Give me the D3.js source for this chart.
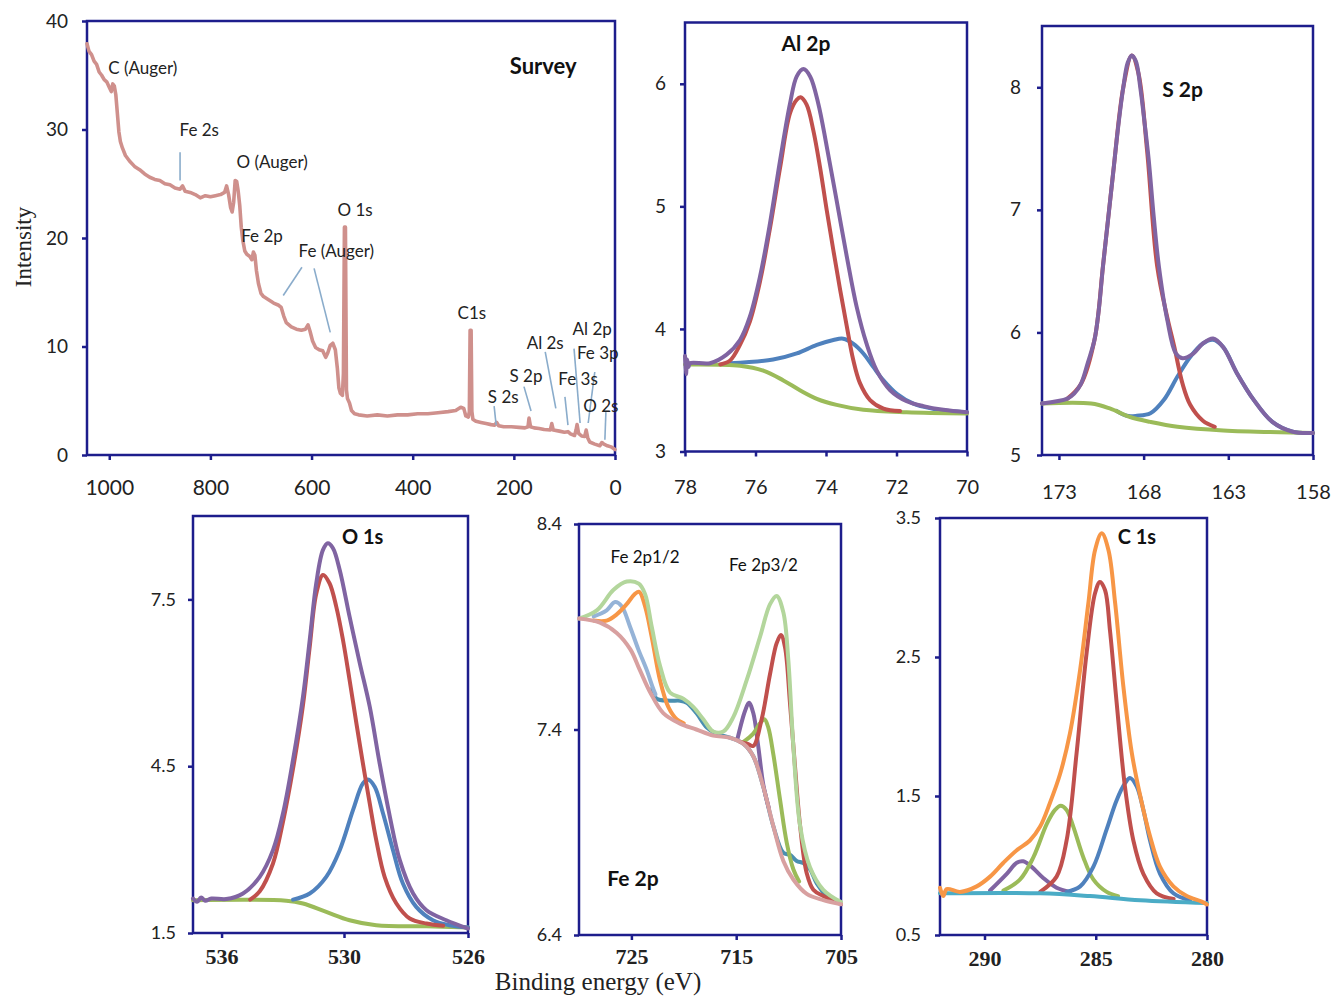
<!DOCTYPE html>
<html>
<head>
<meta charset="utf-8">
<script src="https://cdn.jsdelivr.net/npm/d3@7"></script>
<style>
  html, body { margin: 0; padding: 0; background: #fff; }
  svg { display: block; }
  .tick text { fill: #222; }
</style>
</head>
<body>
<svg id="chart" width="1335" height="998"></svg>
<script>
// ---------- Survey spectrum: [binding energy (eV), intensity] ----------
const surveySpectrum = [
  [1044,37.9],[1040,37.2],[1035,36.9],[1030,36.3],[1025,36.0],[1020,35.3],[1015,35.0],[1010,34.6],
  [1005,34.4],[1000,33.9],[996,33.5],[993,34.2],[990,34.0],[987,33.2],[984,31.5],[981,29.8],
  [978,28.9],[974,28.3],[968,27.6],[960,27.1],[950,26.6],[940,26.3],[930,25.9],[920,25.6],
  [910,25.4],[900,25.3],[890,25.0],[880,24.9],[870,24.6],[860,24.5],[855,24.8],[850,24.3],
  [840,24.2],[830,24.0],[820,23.7],[810,23.9],[800,23.8],[790,23.9],[780,24.0],[772,24.2],
  [768,24.8],[764,24.0],[760,22.8],[757,22.4],[754,23.3],[751,25.3],[748,25.2],[745,24.3],
  [742,23.0],[739,21.0],[736,19.8],[732,18.8],[728,18.5],[722,18.3],[718,18.0],[715,18.7],
  [712,18.4],[709,17.0],[705,15.8],[700,14.9],[695,14.6],[685,14.3],[675,14.0],[665,13.8],
  [660,13.6],[655,12.8],[650,12.2],[640,11.8],[630,11.6],[620,11.5],[612,11.6],[607,12.0],
  [603,11.4],[598,10.5],[592,9.9],[585,9.7],[578,9.6],[572,9.0],[568,9.4],[563,10.1],
  [558,10.3],[553,9.7],[549,8.0],[546,6.2],[543,5.7],[539,5.5],[537,7.5],[535,21.0],
  [533,21.0],[531,6.0],[529,5.2],[525,4.8],[521,4.1],[515,3.8],[507,3.7],[490,3.6],
  [470,3.7],[450,3.6],[430,3.7],[410,3.7],[390,3.8],[370,3.8],[350,3.9],[330,4.0],
  [315,4.1],[305,4.4],[299,4.3],[295,3.6],[290,3.5],[288,4.0],[286.5,11.5],[284.5,11.5],
  [283,4.0],[281,3.3],[275,3.1],[265,3.0],[255,2.9],[245,2.8],[238,2.75],[234,3.0],
  [230,2.7],[220,2.6],[205,2.6],[190,2.55],[178,2.5],[172,2.6],[170,3.4],[167,2.6],
  [160,2.5],[150,2.45],[140,2.35],[128,2.3],[125,2.9],[122,2.3],[110,2.2],[100,2.1],
  [93,2.15],[88,1.95],[80,1.8],[77,2.3],[75,2.8],[72,2.0],[66,1.75],[60,1.7],
  [57,2.3],[54,1.6],[50,1.2],[40,1.0],[30,0.85],[26,1.15],[22,1.0],[15,0.85],[8,0.75],[0,0.5]
];
// Peak labels: text anchor point, then optional leader lines [from, to] in data units
const surveyLabels = [
  { text: "C (Auger)", at: [1002, 35.1], anchor: "start" },
  { text: "Fe 2s", at: [822, 29.4], leader: [[860, 27.9], [860, 25.3]] },
  { text: "O (Auger)", at: [678, 26.45] },
  { text: "O 1s", at: [514, 22.0] },
  { text: "Fe 2p", at: [698, 19.6] },
  { text: "Fe (Auger)", at: [551, 18.25], leader: [[619, 17.3], [656, 14.7]], leader2: [[595, 17.2], [563, 11.3]] },
  { text: "C1s", at: [283, 12.5] },
  { text: "Al 2s", at: [138, 9.8], leader: [[138, 9.5], [117, 4.3]] },
  { text: "Al 2p", at: [45, 11.1], leader: [[81, 9.8], [69, 2.95]] },
  { text: "Fe 3p", at: [34, 8.85], leader: [[40, 7.65], [53, 2.95]] },
  { text: "S 2p", at: [176, 6.7], leader: [[180, 6.3], [166, 4.05]] },
  { text: "Fe 3s", at: [73, 6.45], leader: [[99, 5.35], [93, 2.75]] },
  { text: "S 2s", at: [221, 4.8], leader: [[239, 4.5], [235, 2.75]] },
  { text: "O 2s", at: [28, 3.95], leader: [[18, 3.95], [20, 1.4]] }
];

// ---------- Al 2p ----------
const al2pBackground = [[78,3.71],[77.86,3.71],[76.44,3.70],[75.78,3.66],[75.21,3.58],[74.74,3.50],[74.26,3.43],[73.70,3.38],[72.94,3.34],[71.71,3.32],[70,3.31]];
const al2pMinor = [[76.73,3.72],[75.50,3.75],[74.83,3.80],[74.26,3.87],[73.79,3.91],[73.51,3.92],[73.23,3.88],[72.94,3.80],[72.66,3.69],[72.37,3.58],[71.99,3.47],[71.52,3.39],[71.0,3.35],[70.5,3.33],[70,3.32]];
const al2pMain = [[77.0,3.71],[76.73,3.74],[76.44,3.87],[76.16,4.06],[75.87,4.39],[75.59,4.82],[75.30,5.32],[75.02,5.76],[74.83,5.87],[74.72,5.89],[74.55,5.83],[74.36,5.62],[74.17,5.32],[73.98,4.97],[73.79,4.64],[73.60,4.32],[73.41,4.02],[73.23,3.75],[73.04,3.56],[72.75,3.42],[72.37,3.35],[71.90,3.33]];
const al2pEnvelope = [[78,3.78],[77.97,3.63],[77.94,3.75],[77.9,3.69],[77.86,3.72],[77.29,3.72],[76.82,3.79],[76.44,3.91],[76.16,4.10],[75.87,4.43],[75.59,4.86],[75.30,5.38],[75.02,5.84],[74.83,6.06],[74.64,6.12],[74.45,6.06],[74.22,5.84],[73.98,5.49],[73.70,5.05],[73.41,4.59],[73.13,4.18],[72.85,3.88],[72.56,3.66],[72.18,3.50],[71.71,3.41],[71.24,3.37],[70.67,3.34],[70,3.32]];

// ---------- S 2p ----------
const s2pBackground = [[174,5.42],[171.1,5.42],[170,5.38],[168.8,5.31],[167.6,5.27],[166,5.23],[163.3,5.2],[158,5.18]];
const s2pMain = [[172.5,5.46],[171.7,5.58],[170.9,5.94],[170.4,6.54],[169.8,7.30],[169.2,8.0],[168.7,8.26],[168.3,8.11],[167.8,7.49],[167.2,6.54],[166.6,6.12],[166.2,5.89],[165.7,5.58],[165.25,5.41],[164.5,5.28],[163.8,5.23]];
const s2pMinor = [[169.6,5.36],[169.0,5.32],[168.4,5.32],[167.6,5.34],[166.8,5.45],[166.0,5.64],[165.25,5.80],[164.5,5.91],[163.9,5.94],[163.3,5.88],[162.5,5.67],[161.5,5.45],[160.4,5.27],[159.2,5.19],[158,5.18]];
const s2pEnvelope = [[174,5.42],[172.5,5.46],[172.1,5.50],[171.7,5.58],[171.3,5.75],[170.9,5.94],[170.65,6.18],[170.4,6.54],[170.1,6.92],[169.8,7.30],[169.5,7.68],[169.2,8.0],[168.94,8.2],[168.7,8.26],[168.45,8.21],[168.2,8.0],[167.96,7.73],[167.7,7.41],[167.4,6.94],[167.1,6.54],[166.6,6.10],[166.1,5.83],[165.7,5.79],[165.05,5.83],[164.5,5.91],[163.9,5.95],[163.3,5.88],[162.5,5.67],[161.5,5.45],[160.4,5.27],[159.2,5.19],[158,5.18]];

// ---------- O 1s ----------
const o1sBackground = [[537.4,2.09],[532.83,2.08],[532.01,2.03],[530.87,1.88],[529.82,1.73],[528.96,1.64],[527.34,1.62],[526,1.60]];
const o1sMinor = [[532.5,2.10],[531.68,2.21],[530.87,2.51],[530.21,2.99],[529.71,3.71],[529.39,4.19],[529.23,4.26],[529.01,4.13],[528.74,3.65],[528.42,2.99],[528.10,2.39],[527.67,1.97],[527.13,1.73],[526.6,1.64],[526,1.60]];
const o1sMain = [[534.6,2.10],[534.13,2.25],[533.48,2.75],[532.99,3.50],[532.5,4.45],[532.01,5.60],[531.68,6.65],[531.36,7.60],[531.03,7.94],[530.71,7.79],[530.38,7.37],[530.05,6.77],[529.82,6.05],[529.60,5.27],[529.39,4.55],[529.17,3.83],[528.96,3.17],[528.69,2.51],[528.31,2.03],[527.88,1.76],[527.34,1.67],[526.8,1.63]];
const o1sEnvelope = [[537.4,2.12],[537.2,2.06],[537.0,2.14],[536.8,2.08],[536.5,2.12],[535.77,2.11],[534.95,2.21],[534.13,2.51],[533.48,2.99],[532.99,3.65],[532.50,4.61],[532.01,5.75],[531.68,6.77],[531.36,7.79],[531.03,8.39],[530.79,8.51],[530.54,8.42],[530.21,8.03],[529.82,7.19],[529.49,6.35],[529.17,5.57],[528.85,4.55],[528.52,3.59],[528.20,2.81],[527.77,2.21],[527.34,1.91],[526.70,1.73],[526,1.58]];

// ---------- Fe 2p ----------
const fe2pBackground = [[730,7.94],[728.0,7.92],[726.4,7.87],[725.1,7.79],[724.2,7.69],[723.2,7.58],[721.96,7.48],[720.4,7.43],[718.8,7.40],[717.19,7.37],[715.6,7.36],[714.3,7.33],[713.37,7.27],[712.41,7.12],[711.46,6.93],[710.5,6.76],[709.55,6.67],[708.27,6.60],[706.69,6.57],[705,6.55]];
const fe2pEnvelope = [[730,7.94],[728.3,7.98],[726.7,8.08],[725.45,8.12],[724.3,8.11],[723.7,8.06],[723.06,7.90],[722.27,7.71],[721.32,7.58],[720.05,7.55],[719.1,7.51],[718.14,7.45],[717.19,7.39],[716.23,7.39],[715.28,7.46],[714.0,7.64],[712.73,7.85],[711.77,8.01],[711.14,8.05],[710.5,7.97],[710.03,7.74],[709.55,7.32],[708.9,6.93],[707.96,6.73],[706.69,6.62],[705,6.56]];
const fe2p12High = [[728.6,7.93],[727.36,7.93],[726.4,7.96],[725.45,8.01],[724.66,8.06],[724.25,8.07],[723.7,8.0],[723.06,7.85],[722.27,7.64],[721.48,7.51],[720.68,7.45],[720.0,7.43]];
const fe2p12Low = [[728.6,7.95],[727.36,7.98],[726.56,8.02],[725.93,8.0],[725.13,7.90],[724.34,7.79],[723.54,7.69],[723.0,7.61],[722.7,7.57]];
const fe2pSatellite = [[723.0,7.60],[722.6,7.55],[721.32,7.54],[720.36,7.54],[719.72,7.53],[718.8,7.48],[717.8,7.41],[716.9,7.38],[715.6,7.36],[714.3,7.33],[713.37,7.27],[712.41,7.12],[711.46,6.93],[710.5,6.80],[709.87,6.79],[709.23,6.76],[708.6,6.75],[707.96,6.72],[707.3,6.65],[706.36,6.59],[705.5,6.56]];
const fe2p32Sat = [[714.9,7.35],[714.16,7.49],[713.78,7.53],[713.37,7.48],[712.9,7.32],[712.41,7.13],[711.9,7.02]];
const fe2p32Mid = [[714.3,7.34],[713.37,7.38],[712.73,7.43],[712.31,7.45],[711.94,7.41],[711.46,7.28],[710.82,7.06],[710.18,6.85],[709.55,6.72],[709.0,6.66]];
const fe2p32Main = [[714.64,7.34],[713.9,7.33],[713.37,7.32],[712.57,7.45],[711.77,7.67],[711.14,7.82],[710.73,7.86],[710.34,7.80],[709.87,7.53],[709.39,7.22],[708.9,6.93],[708.27,6.70],[707.64,6.62],[706.69,6.59],[705,6.55]];

// ---------- C 1s ----------
const c1sBackground = [[292,0.80],[287.5,0.80],[285.26,0.78],[283.0,0.75],[280,0.73]];
const c1sOCO = [[289.75,0.82],[289.0,0.94],[288.55,1.02],[288.26,1.03],[287.88,0.99],[287.36,0.91],[286.76,0.84],[286.16,0.81]];
const c1sCO = [[289.15,0.82],[288.4,0.90],[287.8,1.06],[287.2,1.30],[286.83,1.40],[286.58,1.43],[286.31,1.40],[286.01,1.28],[285.56,1.06],[285.11,0.90],[284.51,0.81],[284.0,0.78]];
const c1sCC = [[287.5,0.81],[286.76,0.92],[286.31,1.18],[285.86,1.81],[285.41,2.53],[285.03,2.96],[284.81,3.04],[284.58,2.98],[284.36,2.69],[284.06,2.17],[283.69,1.57],[283.31,1.18],[282.86,0.94],[282.26,0.80],[281.5,0.76]];
const c1sLow = [[286.31,0.81],[285.7,0.85],[285.11,0.99],[284.51,1.26],[284.06,1.47],[283.69,1.59],[283.46,1.63],[283.16,1.57],[282.86,1.40],[282.56,1.18],[282.11,0.94],[281.51,0.80],[280.76,0.75]];
const c1sEnvelope = [[292,0.84],[291.85,0.78],[291.7,0.83],[291.1,0.81],[290.35,0.85],[289.75,0.92],[289.15,1.02],[288.55,1.11],[287.96,1.18],[287.5,1.28],[287.06,1.45],[286.6,1.66],[286.16,1.95],[285.7,2.41],[285.33,2.89],[285.03,3.27],[284.73,3.39],[284.43,3.27],[284.13,2.89],[283.76,2.29],[283.38,1.81],[283.0,1.50],[282.56,1.21],[282.11,0.99],[281.51,0.85],[280.91,0.78],[280.24,0.74],[280,0.72]];

// ---------- axis ticks ----------
const surveyXTicks = [1000, 800, 600, 400, 200, 0];
const surveyYTicks = [0, 10, 20, 30, 40];
const al2pXTicks = [78, 76, 74, 72, 70];
const al2pYTicks = [3, 4, 5, 6];
const s2pXTicks = [173, 168, 163, 158];
const s2pYTicks = [5, 6, 7, 8];
const o1sXTicks = [536, 530, 526];
const o1sYTicks = [1.5, 4.5, 7.5];
const fe2pXTicks = [725, 715, 705];
const fe2pYTicks = [6.4, 7.4, 8.4];
const c1sXTicks = [290, 285, 280];
const c1sYTicks = [0.5, 1.5, 2.5, 3.5];

// ---------- styling ----------
const NAVY = "#1d1d8c";
const C = {
  purple: "#8064a2", red: "#c0504d", blue: "#4f81bd", green: "#9bbb59",
  orange: "#f79646", teal: "#4bacc6", lightGreen: "#b3d69c", lightBlue: "#95b3d7",
  pink: "#d8a0a0", satellite: "#4a8fb0", survey: "#cf908c", leader: "#8aaccb"
};
const SANS = "Lato, 'Open Sans', sans-serif";
const SERIF = "'Liberation Serif', 'DejaVu Serif', serif";

const svg = d3.select("#chart");

function drawPanel(p) {
  const x = d3.scaleLinear().domain(p.xDomain).range(p.xRange);
  const y = d3.scaleLinear().domain(p.yDomain).range(p.yRange);
  const g = svg.append("g");
  const left = p.xRange[0], right = p.xRange[p.xRange.length - 1];
  const bottom = p.yRange[0], top = p.yRange[1];

  const xAxis = g.append("g").attr("transform", `translate(0,${bottom})`)
    .call(d3.axisBottom(x).tickValues(p.xTicks).tickSize(5).tickPadding(p.xPad)
      .tickFormat(p.xFormat || d3.format("d")));
  const yAxis = g.append("g").attr("transform", `translate(${left},0)`)
    .call(d3.axisLeft(y).tickValues(p.yTicks).tickSize(5).tickPadding(p.yPad)
      .tickFormat(p.yFormat || d3.format("d")));
  [xAxis, yAxis].forEach(a => {
    a.select(".domain").remove();
    a.selectAll(".tick line").attr("stroke", NAVY).attr("stroke-width", 2.5);
  });
  xAxis.selectAll("text").attr("font-family", p.xFont || SANS).attr("font-size", p.xSize || 20)
    .attr("font-weight", p.xWeight || "normal");
  yAxis.selectAll("text").attr("font-family", SANS).attr("font-size", p.ySize || 19);

  g.append("rect").attr("x", left).attr("y", top)
    .attr("width", right - left).attr("height", bottom - top)
    .attr("fill", "none").attr("stroke", NAVY).attr("stroke-width", 2.5);

  const line = d3.line().x(d => x(d[0])).y(d => y(d[1]))
    .curve(p.curve || d3.curveCatmullRom.alpha(0.5));
  p.series.forEach(s => {
    g.append("path").datum(s.data).attr("d", line)
      .attr("fill", "none").attr("stroke", s.color)
      .attr("stroke-width", s.width || 4)
      .attr("stroke-linejoin", "round").attr("stroke-linecap", "round");
  });

  (p.titles || []).forEach(t => {
    g.append("text").attr("x", x(t.at[0])).attr("y", y(t.at[1]))
      .attr("text-anchor", t.anchor || "middle")
      .attr("font-family", SANS).attr("font-size", t.size || 21)
      .attr("font-weight", t.bold ? "bold" : "normal").attr("fill", "#111")
      .text(t.text);
  });
  return { x, y, g };
}

// Survey
const survey = drawPanel({
  xDomain: [1044, 0], xRange: [87, 615], yDomain: [0, 40], yRange: [455, 21],
  xTicks: surveyXTicks, yTicks: surveyYTicks, xPad: 20, yPad: 14, xSize: 21, ySize: 19,
  curve: d3.curveLinear,
  series: [{ data: surveySpectrum, color: C.survey, width: 3.6 }],
  titles: [{ text: "Survey", at: [142, 35.1], bold: true, size: 22 }]
});
surveyLabels.forEach(l => {
  survey.g.append("text")
    .attr("x", survey.x(l.at[0])).attr("y", survey.y(l.at[1]))
    .attr("text-anchor", l.anchor || "middle")
    .attr("font-family", SANS).attr("font-size", 17).attr("fill", "#222")
    .text(l.text);
  [l.leader, l.leader2].filter(Boolean).forEach(seg => {
    survey.g.append("line")
      .attr("x1", survey.x(seg[0][0])).attr("y1", survey.y(seg[0][1]))
      .attr("x2", survey.x(seg[1][0])).attr("y2", survey.y(seg[1][1]))
      .attr("stroke", C.leader).attr("stroke-width", 1.6);
  });
});

// Al 2p
drawPanel({
  xDomain: [78, 70], xRange: [685, 967], yDomain: [3, 6.5], yRange: [451.5, 22.5],
  xTicks: al2pXTicks, yTicks: al2pYTicks, xPad: 23, yPad: 14,
  series: [
    { data: al2pMinor, color: C.blue },
    { data: al2pBackground, color: C.green },
    { data: al2pMain, color: C.red },
    { data: al2pEnvelope, color: C.purple }
  ],
  titles: [{ text: "Al 2p", at: [74.57, 6.27], bold: true }]
});

// S 2p
drawPanel({
  xDomain: [174, 158], xRange: [1042, 1313], yDomain: [5, 8.5], yRange: [455, 26],
  xTicks: s2pXTicks, yTicks: s2pYTicks, xPad: 25, yPad: 16,
  series: [
    { data: s2pMinor, color: C.blue },
    { data: s2pBackground, color: C.green },
    { data: s2pMain, color: C.red },
    { data: s2pEnvelope, color: C.purple }
  ],
  titles: [{ text: "S 2p", at: [165.7, 7.92], bold: true }]
});

// O 1s (piecewise axis: 536 / 530 / 526 labels evenly spaced)
drawPanel({
  xDomain: [537.4, 530, 526], xRange: [193, 344, 468], yDomain: [1.5, 9], yRange: [933, 516],
  xTicks: o1sXTicks, yTicks: o1sYTicks, xPad: 10, yPad: 12,
  xFont: SERIF, xSize: 22, xWeight: "bold", ySize: 18, yFormat: d3.format(".1f"),
  series: [
    { data: o1sBackground, color: C.green },
    { data: o1sMinor, color: C.blue },
    { data: o1sMain, color: C.red },
    { data: o1sEnvelope, color: C.purple }
  ],
  titles: [{ text: "O 1s", at: [529.4, 8.5], bold: true, size: 20 }]
});

// Fe 2p
drawPanel({
  xDomain: [730, 705], xRange: [579, 841], yDomain: [6.4, 8.4], yRange: [935, 524],
  xTicks: fe2pXTicks, yTicks: fe2pYTicks, xPad: 8, yPad: 12,
  xFont: SERIF, xSize: 22, xWeight: "bold", ySize: 18, yFormat: d3.format(".1f"),
  series: [
    { data: fe2pSatellite, color: C.satellite },
    { data: fe2p12Low, color: C.lightBlue },
    { data: fe2p12High, color: C.orange },
    { data: fe2p32Sat, color: C.purple },
    { data: fe2p32Mid, color: C.green },
    { data: fe2p32Main, color: C.red },
    { data: fe2pEnvelope, color: C.lightGreen },
    { data: fe2pBackground, color: C.pink }
  ],
  titles: [
    { text: "Fe 2p1/2", at: [723.7, 8.21], size: 17 },
    { text: "Fe 2p3/2", at: [712.4, 8.17], size: 17 },
    { text: "Fe 2p", at: [724.85, 6.64], bold: true, size: 21 }
  ]
});

// C 1s
drawPanel({
  xDomain: [292, 280], xRange: [940, 1207], yDomain: [0.5, 3.5], yRange: [935, 518],
  xTicks: c1sXTicks, yTicks: c1sYTicks, xPad: 10, yPad: 14,
  xFont: SERIF, xSize: 22, xWeight: "bold", ySize: 18, yFormat: d3.format(".1f"),
  series: [
    { data: c1sOCO, color: C.purple },
    { data: c1sCO, color: C.green },
    { data: c1sLow, color: C.blue },
    { data: c1sCC, color: C.red },
    { data: c1sBackground, color: C.teal },
    { data: c1sEnvelope, color: C.orange }
  ],
  titles: [{ text: "C 1s", at: [283.15, 3.31], bold: true, size: 20 }]
});

// Shared axis titles
svg.append("text")
  .attr("transform", "translate(31,247) rotate(-90)")
  .attr("text-anchor", "middle").attr("font-family", SERIF).attr("font-size", 23)
  .attr("fill", "#222").text("Intensity");
svg.append("text")
  .attr("x", 598).attr("y", 990)
  .attr("text-anchor", "middle").attr("font-family", SERIF).attr("font-size", 25)
  .attr("fill", "#222").text("Binding energy (eV)");
</script>
</body>
</html>
